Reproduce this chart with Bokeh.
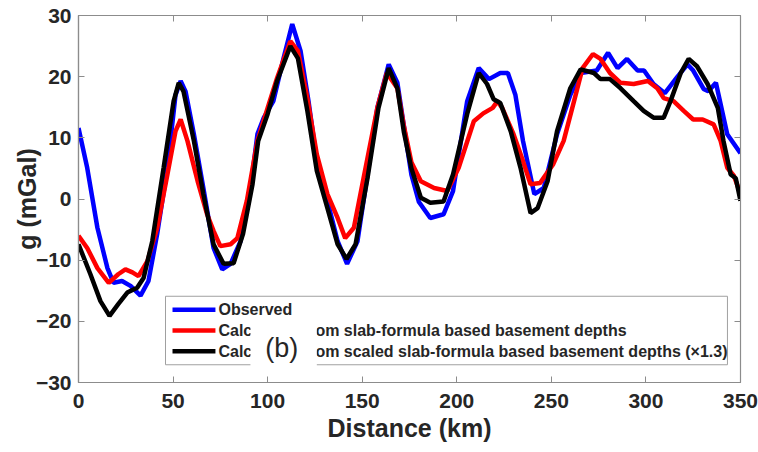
from bokeh.plotting import figure
from bokeh.models import (Range1d, LinearAxis, Title, FixedTicker, CustomJSTickFormatter)
from bokeh.core.properties import value
from bokeh.embed import file_html
from bokeh.resources import INLINE

# ---------------- data ----------------
obs_d = [0, 4.6, 10, 15.3, 18.5, 23, 27.5, 32.8, 37, 41.6, 47, 51.3, 54, 56.6, 61, 66,
         71.4, 76, 80.4, 85.7, 91, 94.6, 98, 103, 108.4, 113, 117.4, 121.6, 126, 131.6,
         137, 142, 147.5, 152.8, 158, 164, 168.6, 172, 176, 180, 186, 193, 198, 205.5,
         211.6, 217, 223, 227, 231, 235, 241, 246, 253, 260, 265.5, 274, 280, 285, 290,
         295.6, 299, 304, 310, 316.7, 322, 325, 330.5, 333, 337, 343, 350]
obs_g = [11.6, 5.1, -4.7, -11.3, -13.7, -13.4, -14.2, -15.8, -13.4, -5.7, 5.1, 17, 19.3,
         17.6, 10.6, 1.8, -8, -11.5, -10.6, -6.9, 1.8, 10.6, 13.3, 16, 23, 28.6, 24.2, 16,
         6.2, -0.3, -6.9, -10.6, -6.9, 4, 14.9, 22, 19, 12, 4, -0.5, -3.1, -2.5, 1.3, 16,
         21.4, 19.6, 20.6, 20.6, 17, 9.5, 0.8, 1.8, 10.6, 17, 20.6, 21, 23.9, 21.4, 22.9,
         21, 21, 18.8, 17.3, 20, 22, 21, 18, 17.6, 19, 10.6, 7.5]

slab_d = [0, 4.6, 10, 16, 21, 24.8, 28.5, 31.7, 36.5, 41.6, 47, 51.3, 54, 57.6, 63, 68,
          71.4, 75, 80.4, 84, 89, 94.6, 100, 105, 112, 116, 121, 126, 131.6, 137, 141,
          145.6, 150.7, 158, 163, 168.6, 172, 176, 181, 188, 195, 201, 209, 214, 219,
          221.5, 224, 230, 235, 239, 244, 251, 256.5, 262, 266.5, 272, 276, 281, 286.6,
          293.5, 301, 306, 309.4, 314.6, 320, 325, 330, 335.8, 339.5, 343, 346.5, 350]
slab_g = [-6, -8, -11.3, -13.7, -12.3, -11.5, -12, -12.6, -10.1, -4.7, 4, 11.1, 13, 9.5,
          2.9, -2.5, -5.2, -7.7, -7.4, -6.4, -0.3, 9.5, 14.9, 19.8, 25.8, 24.2, 16.5, 7.3,
          0.8, -3.1, -6.4, -4.7, 3.4, 14.9, 20.6, 18.1, 12, 6, 2.9, 1.8, 1.3, 5.1, 12.7,
          14, 14.9, 16, 14.9, 10.6, 6.2, 2.4, 2.6, 5.7, 9.5, 16, 21.4, 23.7, 22.9, 20.6,
          19, 18.8, 19.3, 18.1, 16.5, 16, 14.4, 13, 13, 12.2, 9.5, 5.1, 3.8, 0.8]

scaled_d = [0, 6.3, 11.6, 16.4, 21, 25.8, 31, 34.4, 39, 45, 50.3, 53, 55.5, 61, 66, 71.4,
            76.7, 82, 87, 92, 95, 100, 105, 112, 116, 121, 126, 131.6, 137, 141.7, 146.5,
            152.8, 158.6, 164, 168.6, 172, 176, 181, 186, 193, 198, 205.5, 211.6, 216,
            219.5, 223, 228.5, 233.7, 239, 242.7, 248, 253, 260, 265.5, 272.5, 276, 281,
            286.6, 293.5, 298.8, 304, 309.4, 313, 318.4, 322.6, 327, 332.6, 338, 341,
            344.8, 347.5, 350]
scaled_g = [-7.4, -12.3, -16.7, -19.1, -17.2, -15.3, -14.5, -12.9, -6.9, 5.1, 16, 19,
            17.6, 9.5, 0.8, -7.4, -10.6, -10.5, -5.7, 2.4, 9.5, 13.9, 19.3, 25, 23, 14.4,
            4.6, -1.5, -7.4, -9.8, -7.4, 3.4, 14.9, 21.4, 18.1, 11, 5, 0.2, -0.6, -0.4, 4,
            13.9, 20.6, 18.8, 16.3, 15.7, 11.1, 5.1, -2.3, -1.5, 2.9, 11.1, 18.1, 21.2,
            20.6, 19.6, 19.6, 18.1, 16, 14.4, 13.3, 13.3, 16, 20.6, 22.9, 21.7, 18.8, 14.9,
            9.5, 4, 3.4, -0.3]

labels = ["Observed",
          "Calculated from slab-formula based basement depths",
          "Calculated from scaled slab-formula based basement depths (\u00d71.3)"]
x_title = "Distance (km)"
y_title = "g (mGal)"
panel_tag = "(b)"
x_ticks = [0, 50, 100, 150, 200, 250, 300, 350]
y_ticks = [-30, -20, -10, 0, 10, 20, 30]

# ---------------- styling / layout ----------------
FONT = "Liberation Sans"
TXT = "#262626"
AX = "#8c8c8c"
COLORS = ["#0000ff", "#ff0000", "#000000"]
LW = 4.5

# legend box and rows, in axis units (km / mGal)
LEG_BOX = dict(left=46.0, right=343.1, top=-15.9, bottom=-27.1)
LEG_ROWS = [-18.1, -21.5, -24.9]
LEG_SAMPLE = (49.7, 72.4)
LEG_TEXT_X = 74.0
# white patch behind the panel tag
TAG_BOX = dict(left=90.9, right=126.0, top=-19.4, bottom=-29.2)
TAG_POS = (107.5, -24.3)

p = figure(width=758, height=452, x_range=Range1d(0, 350), y_range=Range1d(-30, 30),
           output_backend="svg", toolbar_location=None,
           min_border_left=78, min_border_right=18, min_border_top=15, min_border_bottom=70)
p.grid.visible = False
p.outline_line_color = AX
p.outline_line_width = 1.2
p.background_fill_color = "white"
p.border_fill_color = "white"

for ax in (p.xaxis[0], p.yaxis[0]):
    ax.axis_line_color = AX
    ax.axis_line_width = 1.2
    ax.major_tick_line_color = AX
    ax.major_tick_in = 6
    ax.major_tick_out = 0
    ax.minor_tick_line_color = None
    ax.major_label_text_font = FONT
    ax.major_label_text_font_style = "bold"
    ax.major_label_text_font_size = "21px"
    ax.major_label_text_color = TXT

p.xaxis[0].ticker = FixedTicker(ticks=x_ticks)
p.yaxis[0].ticker = FixedTicker(ticks=y_ticks)
p.xaxis[0].major_label_standoff = 11
p.yaxis[0].major_label_standoff = 7

# y title as the axis label
p.yaxis[0].axis_label = y_title
p.yaxis[0].axis_label_text_font = FONT
p.yaxis[0].axis_label_text_font_size = "25px"
p.yaxis[0].axis_label_text_font_style = "bold"
p.yaxis[0].axis_label_text_color = TXT
p.yaxis[0].axis_label_standoff = -8

blank = CustomJSTickFormatter(code="return ''")
top = LinearAxis(ticker=FixedTicker(ticks=x_ticks), formatter=blank,
                 axis_line_color=AX, major_tick_line_color=AX, major_tick_in=6,
                 major_tick_out=0, minor_tick_line_color=None, major_label_standoff=0,
                 major_label_text_font_size="1px")
right = LinearAxis(ticker=FixedTicker(ticks=y_ticks), formatter=blank,
                   axis_line_color=AX, major_tick_line_color=AX, major_tick_in=6,
                   major_tick_out=0, minor_tick_line_color=None, major_label_standoff=0,
                   major_label_text_font_size="1px")
p.add_layout(top, "above")
p.add_layout(right, "right")

# x title as a panel title below the axis
p.add_layout(Title(text=x_title, align="center", text_font=FONT, text_font_size="25px",
                   text_font_style="bold", text_color=TXT, standoff=6,
                   vertical_align="top"), "below")

# data curves
p.line(obs_d, obs_g, line_color=COLORS[0], line_width=LW)
p.line(slab_d, slab_g, line_color=COLORS[1], line_width=LW)
p.line(scaled_d, scaled_g, line_color=COLORS[2], line_width=LW)

# legend (drawn as glyphs so the panel tag can sit on top of it)
p.quad(left=[LEG_BOX["left"]], right=[LEG_BOX["right"]], top=[LEG_BOX["top"]],
       bottom=[LEG_BOX["bottom"]], fill_color="white", fill_alpha=1,
       line_color="#a0a0a0", line_width=1)
p.segment(x0=[LEG_SAMPLE[0]] * 3, x1=[LEG_SAMPLE[1]] * 3, y0=LEG_ROWS, y1=LEG_ROWS,
          line_color=COLORS, line_width=LW)
p.text(x=[LEG_TEXT_X] * 3, y=LEG_ROWS, text=labels, text_font=value(FONT),
       text_font_style="bold", text_font_size="16px", text_color=TXT,
       text_align="left", text_baseline="middle")

# panel tag "(b)" on a white patch
p.quad(left=[TAG_BOX["left"]], right=[TAG_BOX["right"]], top=[TAG_BOX["top"]],
       bottom=[TAG_BOX["bottom"]], fill_color="white", fill_alpha=1, line_color=None)
p.text(x=[TAG_POS[0]], y=[TAG_POS[1]], text=[panel_tag], text_font=value(FONT),
       text_font_size="27px", text_color=TXT, text_align="center",
       text_baseline="middle")

open("out.html", "w").write(file_html(p, INLINE))
